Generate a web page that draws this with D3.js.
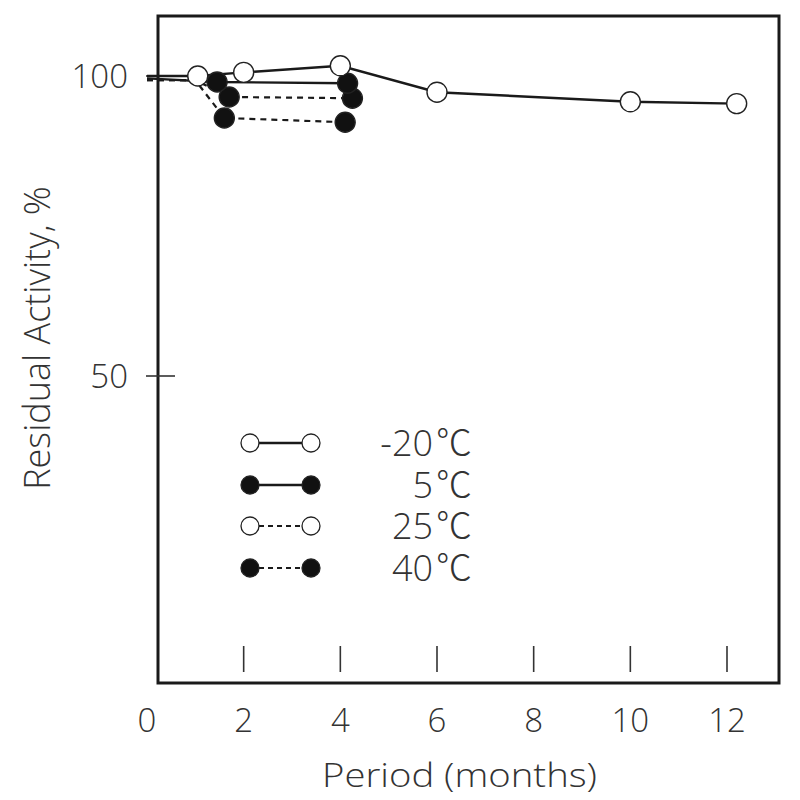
<!DOCTYPE html>
<meta charset="utf-8">
<style>
body { margin: 0; background: #fff; }
text { font-family: "Open Sans", "Noto Sans", sans-serif; font-weight: 300; fill: #333; }
.frame { fill: none; stroke: #1a1a1a; stroke-width: 3px; }
.tick { stroke: #333; stroke-width: 1.6px; }
.line { fill: none; stroke: #1a1a1a; stroke-width: 2.4px; }
.dashed { stroke-dasharray: 6 5; stroke-width: 2.2px; }
.deg { font-family: "Noto Sans CJK JP", "Open Sans", sans-serif; }
</style>
<body>
<svg width="800" height="800"></svg>
<script src="https://cdn.jsdelivr.net/npm/d3@7"></script>
<script>

// data: [month, residual activity %]
let series = ['-20', '5', '25', '40'];
// line-only lead-in points (no marker drawn)
let leadM20 = [[0, 100]];
let lead5 = [[0, 99.6]];
let lead25 = [[0, 99.3], [1.0, 99.3]];
let lead40 = [[0, 99.3], [1.0, 99.3]];
// measured points (with markers)
let valsM20 = [[1.05, 100], [2, 100.6], [4, 101.7], [6, 97.3], [10, 95.7], [12.2, 95.4]];
let vals5 = [[1.45, 99.0], [4.15, 98.8]];
let vals25 = [[1.7, 96.5], [4.25, 96.3]];
let vals40 = [[1.6, 93.0], [4.1, 92.3]];
let xTicks = [0, 2, 4, 6, 8, 10, 12];
let yTicks = [50, 100];

let lead = { '-20': leadM20, '5': lead5, '25': lead25, '40': lead40 };
let data = { '-20': valsM20, '5': vals5, '25': vals25, '40': vals40 };

// styles per series (the 25 C points are drawn filled in the plot)
let styles = {
  '-20': { fill: 'open', dash: false },
  '5': { fill: 'solid', dash: false },
  '25': { fill: 'solid', dash: true },
  '40': { fill: 'solid', dash: true }
};
let legendStyles = {
  '-20': { fill: 'open', dash: false },
  '5': { fill: 'solid', dash: false },
  '25': { fill: 'open', dash: true },
  '40': { fill: 'solid', dash: true }
};

let svg = d3.select('svg');

let x = d3.scaleLinear().domain([0, 12]).range([147, 727]);
let y = d3.scaleLinear().domain([0, 100]).range([676, 76]);

// frame
svg.append('rect').attr('class', 'frame')
  .attr('x', 158).attr('y', 16).attr('width', 621).attr('height', 667);

// x ticks inside the frame, labels below
svg.selectAll('.xtick').data(xTicks.filter(d => d > 0))
  .enter().append('line')
  .attr('class', 'tick')
  .attr('x1', d => x(d)).attr('x2', d => x(d))
  .attr('y1', 646).attr('y2', 672);

svg.selectAll('.xlab').data(xTicks)
  .enter().append('text')
  .attr('x', d => x(d)).attr('y', 732)
  .attr('text-anchor', 'middle')
  .style('font-size', '33px')
  .text(d => d);

// y ticks cross the frame
svg.selectAll('.ytick').data(yTicks)
  .enter().append('line')
  .attr('class', 'tick')
  .attr('x1', 146).attr('x2', 175)
  .attr('y1', d => y(d)).attr('y2', d => y(d));

svg.selectAll('.ylab').data(yTicks)
  .enter().append('text')
  .attr('x', 128).attr('y', d => y(d) + 12)
  .attr('text-anchor', 'end')
  .style('font-size', '33px')
  .text(d => d);

svg.append('text')
  .attr('x', 322).attr('y', 787)
  .attr('textLength', 275)
  .attr('lengthAdjust', 'spacingAndGlyphs')
  .style('font-size', '33px')
  .text('Period (months)');

svg.append('text')
  .attr('transform', 'translate(50,338) rotate(-90)')
  .attr('text-anchor', 'middle')
  .style('font-size', '36px')
  .text('Residual Activity, %');

// lines
let line = d3.line().x(d => x(d[0])).y(d => y(d[1]));
let drawOrder = ['40', '25', '5', '-20'];

svg.selectAll('.line').data(drawOrder)
  .enter().append('path')
  .attr('class', d => 'line' + (styles[d].dash ? ' dashed' : ''))
  .attr('d', d => line(lead[d].concat(data[d])));

// markers
drawOrder.forEach(function(s) {
  svg.selectAll('.pt' + s.replace('-', 'm'))
    .data(data[s])
    .enter().append('circle')
    .attr('cx', d => x(d[0])).attr('cy', d => y(d[1]))
    .attr('r', 10)
    .attr('fill', styles[s].fill == 'open' ? '#fff' : '#111')
    .attr('stroke', '#222')
    .attr('stroke-width', 1.4);
});

// legend
let legendRows = [443, 485, 526, 568];
let lg = svg.selectAll('.legend').data(series)
  .enter().append('g')
  .attr('transform', (d, i) => 'translate(0,' + legendRows[i] + ')');

lg.append('line')
  .attr('x1', 250).attr('x2', 311).attr('y1', 0).attr('y2', 0)
  .attr('stroke', '#1a1a1a')
  .attr('stroke-width', d => legendStyles[d].dash ? 2 : 2.4)
  .attr('stroke-dasharray', d => legendStyles[d].dash ? '5 4' : null);

lg.selectAll('circle').data(d => [[250, d], [311, d]])
  .enter().append('circle')
  .attr('cx', d => d[0]).attr('cy', 0).attr('r', 9)
  .attr('fill', d => legendStyles[d[1]].fill == 'open' ? '#fff' : '#111')
  .attr('stroke', '#222')
  .attr('stroke-width', 1.3);

let lt = lg.append('text')
  .attr('x', 472).attr('y', 13)
  .attr('text-anchor', 'end')
  .style('font-size', '36px');
lt.append('tspan').text(d => d);
lt.append('tspan').attr('class', 'deg').attr('dx', 3).text('\u2103');

</script>
</body>
